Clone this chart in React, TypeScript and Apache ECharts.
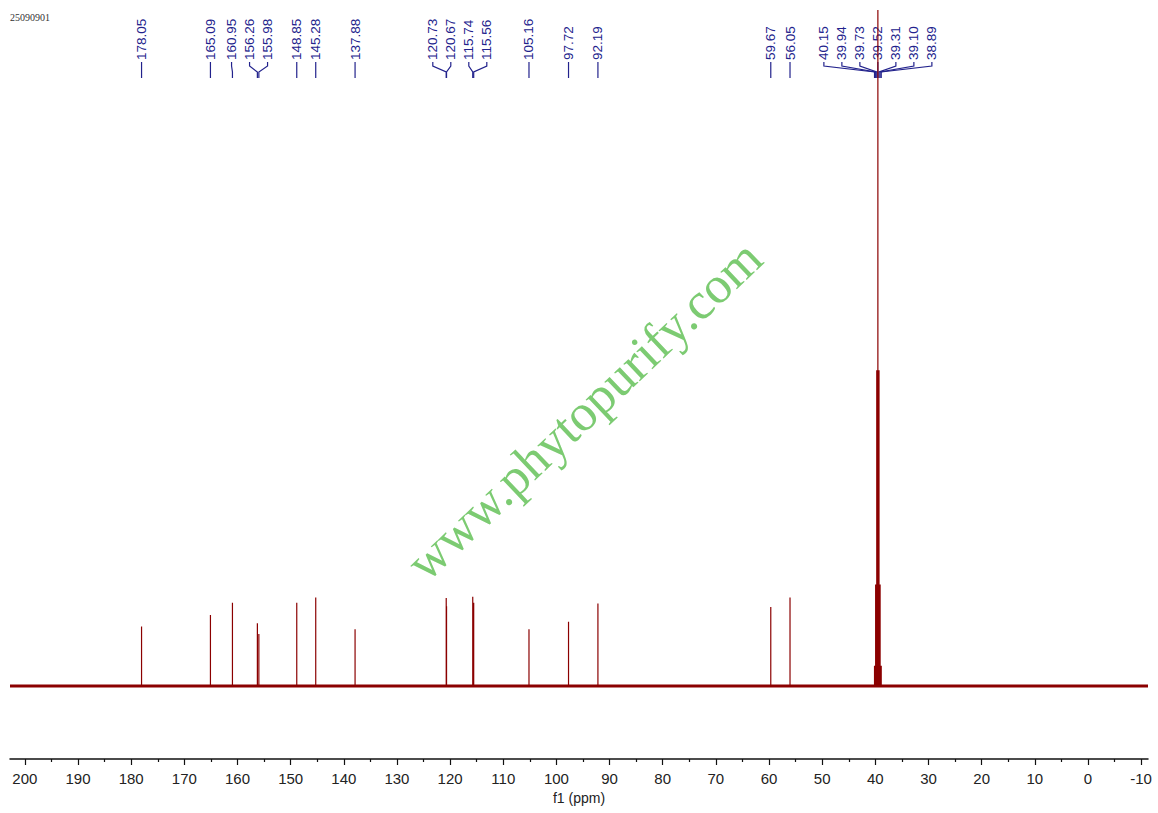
import React, { useEffect, useRef } from "react";
import * as echarts from "echarts";

// ---- Data ----
const peakShifts = [
  178.05, 165.09, 160.95, 156.26, 155.98, 148.85, 145.28, 137.88, 120.73, 120.67,
  115.74, 115.56, 105.16, 97.72, 92.19, 59.67, 56.05, 40.15, 39.94, 39.73, 39.52,
  39.31, 39.1, 38.89,
];
const peakHeights = [
  8.8, 10.5, 12.3, 9.3, 7.7, 12.3, 13.1, 8.4, 13.0, 11.8, 13.2, 12.3, 8.4, 9.5, 12.2,
  11.7, 13.1, 3.0, 15.0, 46.7, 100, 46.7, 15.0, 3.0,
];
const majorTicks = [200, 190, 180, 170, 160, 150, 140, 130, 120, 110, 100, 90, 80, 70, 60, 50, 40, 30, 20, 10, 0, -10];
const minorTicks = [195, 185, 175, 165, 155, 145, 135, 125, 115, 105, 95, 85, 75, 65, 55, 45, 35, 25, 15, 5, -5];
const X_MIN = -11.3;
const X_MAX = 202.8;
const Y_MIN = -10.8;
const Y_MAX = 100;
const sampleId = "25090901";
const axisName = "f1 (ppm)";
const watermark = "www.phytopurify.com";

const SPEC = "#8B0000";
const NAVY = "#22228C";

function buildSpectrum(): number[][] {
  const order = peakShifts.map((_, i) => i).sort((a, b) => peakShifts[b] - peakShifts[a]);
  const pts: number[][] = [[X_MAX, 0]];
  order.forEach((i) => {
    pts.push([peakShifts[i], 0], [peakShifts[i], peakHeights[i]], [peakShifts[i], 0]);
  });
  pts.push([X_MIN, 0]);
  return pts;
}

function spreadLabels(px: number[], gap: number): number[] {
  const idx = px.map((_, i) => i).sort((a, b) => px[a] - px[b]);
  let groups = idx.map((i) => ({ ids: [i], center: px[i] }));
  let changed = true;
  while (changed) {
    changed = false;
    const out: { ids: number[]; center: number }[] = [];
    for (const g of groups) {
      const last = out[out.length - 1];
      if (last) {
        const lastEnd = last.center + ((last.ids.length - 1) * gap) / 2;
        const gStart = g.center - ((g.ids.length - 1) * gap) / 2;
        if (gStart - lastEnd < gap) {
          const ids = last.ids.concat(g.ids);
          const center = ids.reduce((s, k) => s + px[k], 0) / ids.length;
          out[out.length - 1] = { ids, center };
          changed = true;
          continue;
        }
      }
      out.push(g);
    }
    groups = out;
  }
  const res: number[] = new Array(px.length);
  groups.forEach((g) => {
    const start = g.center - ((g.ids.length - 1) * gap) / 2;
    g.ids.forEach((k, j) => (res[k] = start + j * gap));
  });
  return res;
}

export default function App() {
  const ref = useRef<HTMLDivElement>(null);
  useEffect(() => {
    if (!ref.current) return;
    const chart = echarts.init(ref.current, null, { renderer: "svg" });
    const font = '"Liberation Sans", Arial, sans-serif';
    chart.setOption({
      animation: false,
      backgroundColor: "#ffffff",
      grid: { left: 10, right: 10, top: 10, bottom: 54 },
      xAxis: [
        {
          type: "value",
          inverse: true,
          min: X_MIN,
          max: X_MAX,
          position: "bottom",
          name: axisName,
          nameLocation: "middle",
          nameGap: 29,
          nameTextStyle: { color: "#222", fontSize: 14, fontFamily: font },
          axisLine: { show: true, onZero: false, lineStyle: { color: "#111", width: 1.5 } },
          axisTick: { show: true, length: 6, customValues: majorTicks, lineStyle: { color: "#111", width: 1.2 } },
          axisLabel: {
            show: true,
            customValues: majorTicks,
            color: "#222",
            fontSize: 15,
            fontFamily: font,
            margin: 12,
          },
          splitLine: { show: false },
        },
        {
          type: "value",
          inverse: true,
          min: X_MIN,
          max: X_MAX,
          position: "bottom",
          offset: 0,
          axisLine: { show: false, onZero: false },
          axisTick: { show: true, length: 3, customValues: minorTicks, lineStyle: { color: "#111", width: 1.2 } },
          axisLabel: { show: false },
          splitLine: { show: false },
        },
      ],
      yAxis: {
        type: "value",
        min: Y_MIN,
        max: Y_MAX,
        show: false,
        splitLine: { show: false },
      },
      series: [
        {
          type: "line",
          xAxisIndex: 0,
          data: [[X_MAX, 0], [X_MIN, 0]],
          showSymbol: false,
          symbol: "none",
          lineStyle: { color: SPEC, width: 3 },
          silent: true,
        },
        {
          type: "line",
          xAxisIndex: 0,
          data: buildSpectrum(),
          showSymbol: false,
          symbol: "none",
          lineStyle: { color: SPEC, width: 1.2 },
          silent: true,
        },
      ],
    });

    const peakPx = peakShifts.map((p) => chart.convertToPixel({ xAxisIndex: 0 }, p) as number);
    const labelPx = spreadLabels(peakPx, 18);
    const graphics: any[] = [];
    peakShifts.forEach((p, i) => {
      const lx = labelPx[i];
      const x = peakPx[i];
      graphics.push({
        type: "text",
        x: lx,
        y: 60,
        rotation: Math.PI / 2,
        style: {
          text: p.toFixed(2),
          fill: NAVY,
          font: `13.5px ${font}`,
          align: "left",
          verticalAlign: "middle",
          textAlign: "left",
          textVerticalAlign: "middle",
        },
        silent: true,
      });
      graphics.push({
        type: "polyline",
        shape: { points: [[lx, 62], [lx, 66], [x, 72], [x, 78]] },
        style: { stroke: NAVY, lineWidth: 1.2, fill: null },
        silent: true,
      });
    });
    graphics.push({
      type: "text",
      left: 10,
      top: 12,
      style: { text: sampleId, fill: "#333", font: '10px "Liberation Serif", "Times New Roman", serif' },
      silent: true,
    });
    graphics.push({
      type: "text",
      x: 584,
      y: 410,
      rotation: (43.5 * Math.PI) / 180,
      style: {
        text: watermark,
        fill: "#7CCB72",
        font: '52px "Liberation Serif", "Times New Roman", serif',
        align: "center",
        verticalAlign: "middle",
        textAlign: "center",
        textVerticalAlign: "middle",
      },
      silent: true,
      z: 1,
    });
    chart.setOption({ graphic: graphics });

    return () => chart.dispose();
  }, []);
  return (
    <div
      ref={ref}
      style={{ position: "absolute", left: 0, top: 0, width: 1158, height: 813, background: "#fff" }}
    />
  );
}
